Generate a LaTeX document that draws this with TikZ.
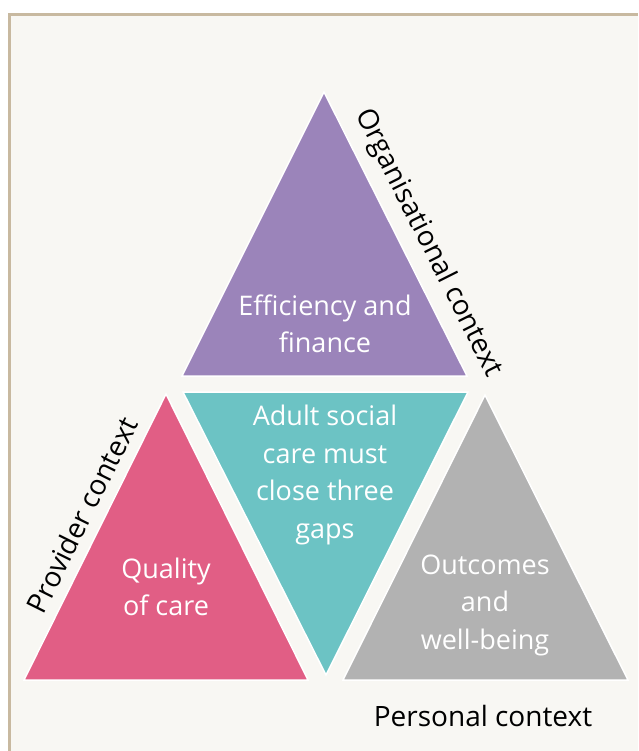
\documentclass[tikz,border=0pt]{standalone}
\usepackage{fontspec}
\setmainfont{Open Sans}
\usepackage{xcolor}
\definecolor{framecol}{RGB}{200,185,160}
\definecolor{paper}{RGB}{248,247,243}
\definecolor{orgcol}{RGB}{155,132,186}
\definecolor{gapcol}{RGB}{108,195,196}
\definecolor{provcol}{RGB}{225,94,133}
\definecolor{perscol}{RGB}{178,178,178}

\begin{document}
\begin{tikzpicture}[x=1pt, y=-1pt]
\tikzstyle{tri} = [draw=white, line width=1.5pt, line join=miter]
\tikzstyle{inner} = [text=white, align=center, font=\fontsize{27}{37.5}\selectfont]
\tikzstyle{context} = [text=black, font=\fontsize{28}{34}\selectfont]
\useasboundingbox (0,0) rectangle (638,751);
\fill[white] (0,0) rectangle (638,751);
\fill[paper] (9,14) rectangle (638,751);
\draw[framecol, line width=3pt] (9.5,751) -- (9.5,14.5) -- (638,14.5);
\coordinate (orgtop) at (324,92);
\coordinate (orgleft) at (182,376);
\coordinate (orgright) at (467,376);
\coordinate (gapleft) at (183,392);
\coordinate (gapright) at (468,392);
\coordinate (gapbottom) at (326,675);
\coordinate (provtop) at (166,394);
\coordinate (provleft) at (24,680);
\coordinate (provright) at (308,680);
\coordinate (perstop) at (485,395);
\coordinate (persleft) at (343,680);
\coordinate (persright) at (628,680);
\filldraw[tri, fill=orgcol] (orgleft) -- (orgtop) -- (orgright) -- cycle;
\filldraw[tri, fill=gapcol] (gapleft) -- (gapright) -- (gapbottom) -- cycle;
\filldraw[tri, fill=provcol] (provleft) -- (provtop) -- (provright) -- cycle;
\filldraw[tri, fill=perscol] (persleft) -- (perstop) -- (persright) -- cycle;
\node[inner] (finance) at (325,324) {Efficiency and\\finance};
\node[inner] (gaps) at (325,475) {Adult social\\care must\\close three\\gaps};
\node[inner] (quality) at (166,587) {Quality\\of care};
\node[inner] (outcomes) at (485,605) {Outcomes\\and\\well-being};
\node[context, rotate=-63.3] (orglabel) at (428,243) {Organisational context};
\node[context, rotate=63.6] (provlabel) at (82,515) {Provider context};
\node[context] (perslabel) at (483,716) {Personal context};
\end{tikzpicture}
\end{document}
